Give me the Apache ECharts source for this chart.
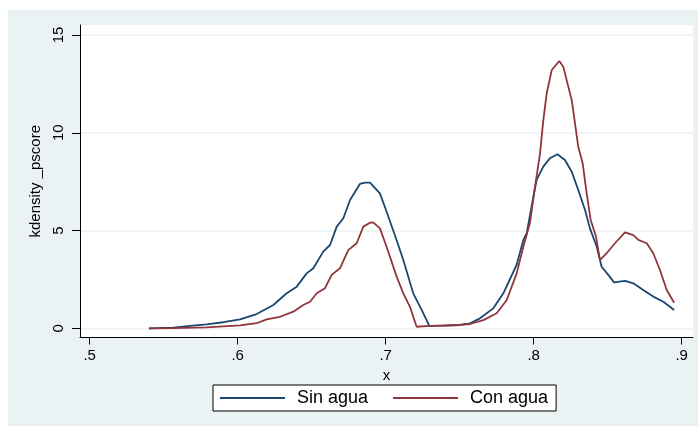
<!DOCTYPE html>
<html>
<head>
<meta charset="utf-8">
<script src="https://cdn.jsdelivr.net/npm/echarts@6/dist/echarts.min.js"></script>
<style>
html,body{margin:0;padding:0;background:#fff;}
#bg{position:absolute;left:8px;top:10px;width:690px;height:416px;background:#eaf2f3;}
#chart{position:absolute;left:0;top:0;width:698px;height:426px;}
</style>
</head>
<body>
<div id="bg"></div>
<div id="chart"></div>
<script>
// Sin agua (blue)
const sinX = [0.540,0.5565,0.5678,0.579,0.5903,0.6016,0.6128,0.6241,0.6331,0.6399,0.6466,0.6511,0.6578,0.6624,0.6669,0.6714,0.6759,0.6826,0.6860,0.6894,0.6961,0.7007,0.7074,0.7119,0.7186,0.7243,0.7295,0.740,0.750,0.757,0.7637,0.7727,0.7795,0.7885,0.793,0.7953,0.7997,0.802,0.8065,0.811,0.816,0.8211,0.8257,0.8301,0.8347,0.838,0.8426,0.8459,0.8504,0.8543,0.8617,0.8673,0.874,0.8808,0.8876,0.8949];
const sinY = [0.0,0.03,0.12,0.20,0.31,0.46,0.73,1.19,1.79,2.13,2.81,3.07,3.92,4.26,5.20,5.63,6.56,7.38,7.45,7.45,6.90,5.95,4.50,3.49,1.79,0.94,0.12,0.14,0.17,0.25,0.51,1.02,1.79,3.25,4.52,4.86,6.70,7.59,8.27,8.70,8.90,8.61,8.01,7.07,6.05,5.11,4.17,3.15,2.73,2.35,2.43,2.30,1.96,1.62,1.36,0.94];
// Con agua (red)
const conX = [0.540,0.5565,0.579,0.5903,0.6016,0.6128,0.6196,0.6286,0.6376,0.6443,0.6489,0.6534,0.659,0.6635,0.6691,0.6747,0.6804,0.6849,0.6894,0.6916,0.6961,0.6995,0.7029,0.7074,0.7119,0.7164,0.7209,0.730,0.7502,0.757,0.766,0.775,0.7818,0.7885,0.793,0.7953,0.7975,0.8009,0.8043,0.8065,0.8088,0.8122,0.8173,0.820,0.8234,0.8257,0.8301,0.8331,0.8358,0.8385,0.8421,0.8448,0.8493,0.8549,0.8617,0.8673,0.8707,0.8764,0.8808,0.8853,0.8899,0.8949];
const conY = [0.0,0.01,0.05,0.10,0.15,0.26,0.46,0.59,0.85,1.19,1.36,1.79,2.05,2.73,3.07,4.00,4.35,5.20,5.40,5.42,5.11,4.40,3.66,2.64,1.79,1.10,0.08,0.12,0.17,0.22,0.42,0.77,1.45,2.81,4.17,4.80,5.40,7.24,8.95,10.65,12.02,13.21,13.67,13.38,12.36,11.68,9.29,8.44,6.90,5.54,4.69,3.49,3.84,4.35,4.91,4.77,4.52,4.35,3.84,2.98,1.96,1.31];
const xTicks = [0.5,0.6,0.7,0.8,0.9];
const yTicks = [0,5,10,15];
const seriesNames = ['Sin agua','Con agua'];

const pair = (xs, ys) => xs.map((x,i)=>[x, ys[i]]);
const chart = echarts.init(document.getElementById('chart'), null, {renderer:'canvas'});
const FONT = 'Liberation Sans, Arial, sans-serif';
chart.setOption({
  animation:false,
  backgroundColor:'transparent',
  grid:{left:80,right:5,top:25,bottom:88.5,show:true,backgroundColor:'#ffffff',borderWidth:0},
  xAxis:{
    type:'value', min:0.49345, max:0.90764,
    name:'x', nameLocation:'middle', nameGap:27,
    nameTextStyle:{color:'#000',fontSize:15,fontFamily:FONT},
    axisLine:{show:true,onZero:false,lineStyle:{color:'#000',width:1}},
    axisTick:{show:true,length:7,customValues:xTicks,lineStyle:{color:'#000'}},
    axisLabel:{customValues:xTicks,color:'#000',fontSize:15,fontFamily:FONT,margin:11,
      formatter:v=>String(+v.toFixed(1)).replace(/^0\./,'.')},
    splitLine:{show:false}
  },
  yAxis:{
    type:'value', min:-0.4705, max:15.511,
    name:'kdensity _pscore', nameLocation:'middle', nameGap:35, nameRotate:90,
    nameTextStyle:{color:'#000',fontSize:15,fontFamily:FONT},
    axisLine:{show:true,onZero:false,lineStyle:{color:'#000',width:1}},
    axisTick:{show:true,length:8,customValues:yTicks,lineStyle:{color:'#000'}},
    axisLabel:{customValues:yTicks,color:'#000',fontSize:15,fontFamily:FONT,rotate:90,margin:14},
    splitLine:{show:true,lineStyle:{color:'#eaf2f3',width:1.5}}
  },
  legend:{
    left:213, top:385, orient:'horizontal',
    padding:[4,8,4,7], itemGap:25, itemWidth:65, itemHeight:2,
    backgroundColor:'#ffffff', borderColor:'#000', borderWidth:1, borderRadius:0,
    icon:'rect',
    textStyle:{color:'#000',fontSize:18,fontFamily:FONT,padding:[0,0,0,7]},
    data:seriesNames
  },
  series:[
    {name:seriesNames[0],type:'line',data:pair(sinX,sinY),showSymbol:false,symbol:'none',
     lineStyle:{color:'#1a476f',width:1.8},itemStyle:{color:'#1a476f'}},
    {name:seriesNames[1],type:'line',data:pair(conX,conY),showSymbol:false,symbol:'none',
     lineStyle:{color:'#90353b',width:1.8},itemStyle:{color:'#90353b'}}
  ]
});
</script>
</body>
</html>
